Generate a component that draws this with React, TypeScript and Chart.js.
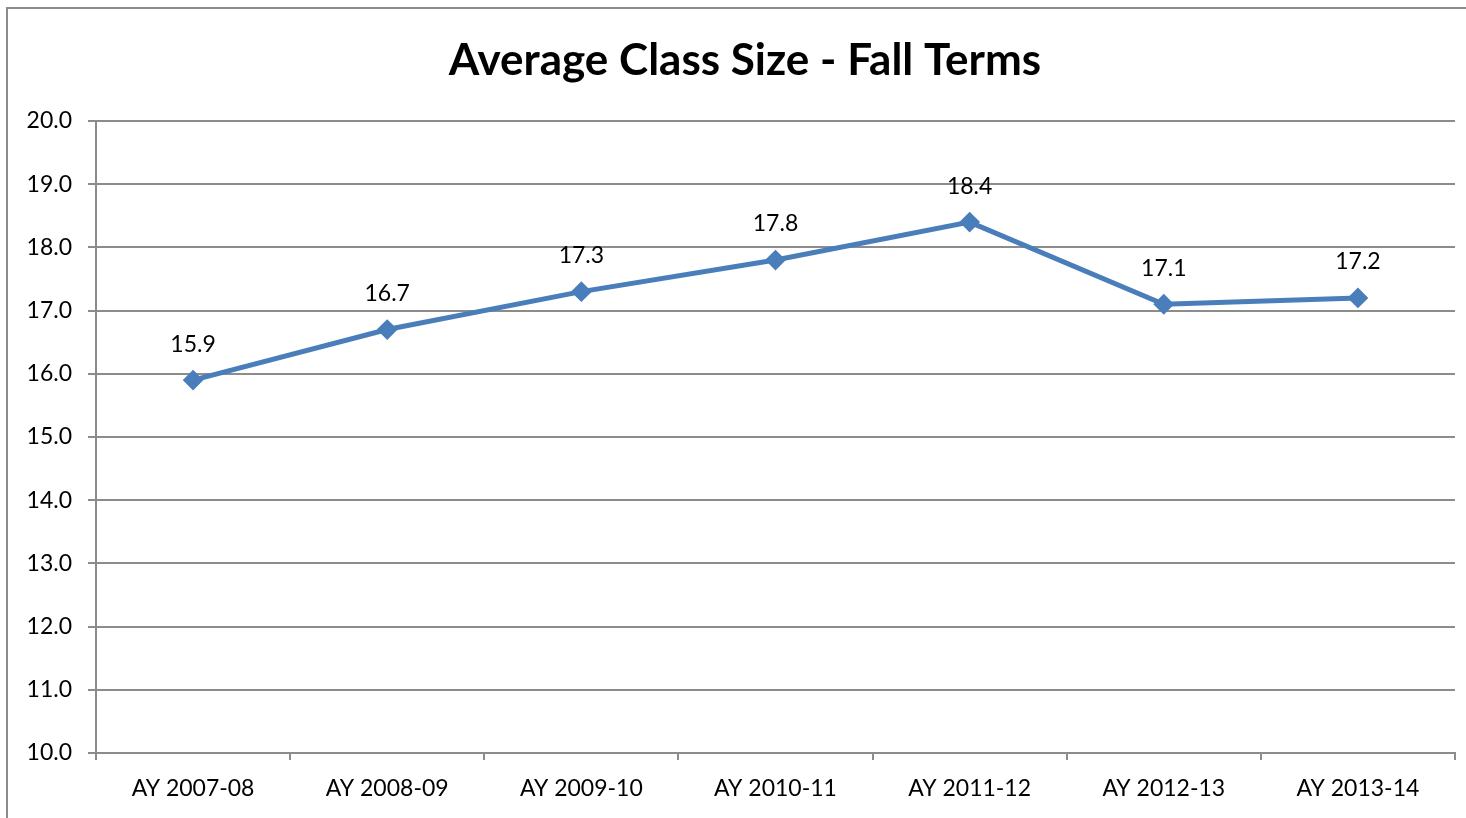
import React, { useEffect, useRef } from "react";
import { Chart, registerables } from "chart.js";

Chart.register(...registerables);

const TITLE = "Average Class Size - Fall Terms";
const categories = ["AY 2007-08", "AY 2008-09", "AY 2009-10", "AY 2010-11", "AY 2011-12", "AY 2012-13", "AY 2013-14"];
const classSize = [15.9, 16.7, 17.3, 17.8, 18.4, 17.1, 17.2];
const yMin = 10;
const yMax = 20;
const yStep = 1;

const FONT = "Lato, 'Open Sans', sans-serif";
const GRID = "#8c8c8c";
const LINE = "#4a7ebb";

export default function App() {
  const ref = useRef<HTMLCanvasElement | null>(null);
  useEffect(() => {
    if (!ref.current) return;
    const framePlugin = {
      id: "frame",
      beforeDraw(chart: any) {
        const ctx = chart.ctx;
        ctx.save();
        ctx.fillStyle = "#ffffff";
        ctx.fillRect(0, 0, chart.width, chart.height);
        ctx.strokeStyle = GRID;
        ctx.lineWidth = 2;
        ctx.beginPath();
        ctx.moveTo(7, chart.height + 2);
        ctx.lineTo(7, 8);
        ctx.lineTo(chart.width + 2, 8);
        ctx.stroke();
        ctx.fillStyle = "#000000";
        ctx.font = `bold 44px ${FONT}`;
        ctx.textAlign = "center";
        ctx.textBaseline = "alphabetic";
        ctx.fillText(TITLE, 745, 75);
        ctx.restore();
      },
      afterDatasetsDraw(chart: any) {
        const ctx = chart.ctx;
        const meta = chart.getDatasetMeta(0);
        ctx.save();
        ctx.fillStyle = "#000000";
        ctx.font = `23px ${FONT}`;
        ctx.textAlign = "center";
        ctx.textBaseline = "middle";
        meta.data.forEach((pt: any, i: number) => {
          ctx.fillText(classSize[i].toFixed(1), pt.x, pt.y - 36);
        });
        ctx.restore();
      },
    };
    const chart = new Chart(ref.current, {
      type: "line",
      data: {
        labels: categories,
        datasets: [
          {
            data: classSize,
            borderColor: LINE,
            backgroundColor: LINE,
            borderWidth: 5,
            pointStyle: "rectRot",
            pointRadius: 9,
            pointBorderWidth: 2,
            pointBorderColor: LINE,
            pointBackgroundColor: LINE,
            tension: 0,
          },
        ],
      },
      options: {
        animation: false,
        responsive: false,
        maintainAspectRatio: false,
        layout: { padding: { top: 121, right: 11, left: 0, bottom: 0 } },
        plugins: { legend: { display: false }, title: { display: false }, tooltip: { enabled: false } },
        scales: {
          x: {
            type: "category",
            offset: true,
            grid: { offset: true, drawOnChartArea: false, drawTicks: true, tickLength: 7, color: GRID, lineWidth: 2 },
            border: { display: true, color: GRID, width: 2 },
            ticks: { color: "#000", font: { family: FONT, size: 23 }, padding: 15, maxRotation: 0, autoSkip: false },
            afterFit: (s: any) => { s.height = 65; },
          },
          y: {
            min: yMin,
            max: yMax,
            grid: { color: GRID, lineWidth: 2, tickLength: 8, drawTicks: true },
            border: { display: true, color: GRID, width: 2 },
            ticks: {
              stepSize: yStep,
              color: "#000",
              font: { family: FONT, size: 23 },
              padding: 16,
              callback: (v: any) => Number(v).toFixed(1),
            },
            afterFit: (s: any) => { s.width = 96; },
          },
        },
      },
      plugins: [framePlugin],
    });
    return () => chart.destroy();
  }, []);
  return (
    <div style={{ position: "fixed", left: 0, top: 0, width: 1466, height: 818, background: "#fff" }}>
      <canvas ref={ref} width={1466} height={818} style={{ display: "block", width: 1466, height: 818 }} />
    </div>
  );
}
